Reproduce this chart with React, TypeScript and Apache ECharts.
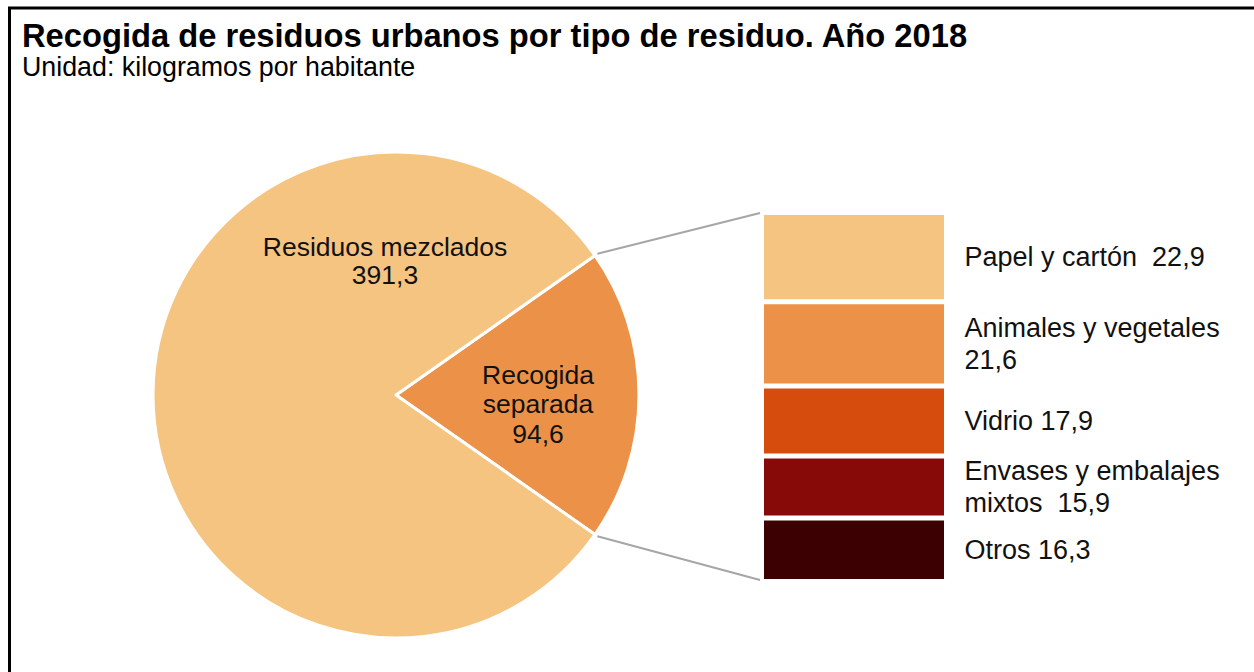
import React, { useEffect, useRef } from "react";
import * as echarts from "echarts";

const TITLE = "Recogida de residuos urbanos por tipo de residuo. Año 2018";
const SUBTITLE = "Unidad: kilogramos por habitante";

const PIE_CATEGORIES = ["Recogida separada", "Residuos mezclados"];
const PIE_VALUES = [94.6, 391.3];
const PIE_LABELS = ["Recogida\nseparada\n{v}", "Residuos mezclados\n{v}"];
const PIE_COLORS = ["#EC9248", "#F5C480"];

const BAR_CATEGORIES = ["Papel y cartón", "Animales y vegetales", "Vidrio", "Envases y embalajes mixtos", "Otros"];
const BAR_VALUES = [22.9, 21.6, 17.9, 15.9, 16.3];
const BAR_LABELS = ["Papel y cartón  {v}", "Animales y vegetales\n{v}", "Vidrio {v}", "Envases y embalajes\nmixtos  {v}", "Otros {v}"];
const BAR_COLORS = ["#F5C480", "#EC9248", "#D54C0D", "#870A09", "#3C0003"];

const fmt = (v: number) => v.toFixed(1).replace(".", ",");
const FONT = "'Liberation Sans', Arial, sans-serif";

export default function App() {
  const ref = useRef<HTMLDivElement>(null);
  useEffect(() => {
    if (!ref.current) return;
    const chart = echarts.init(ref.current, null, { renderer: "svg" });
    const cx = 396, cy = 395, r = 243;
    const pieTotal = PIE_VALUES.reduce((a, b) => a + b, 0);
    const halfDeg = (PIE_VALUES[0] / pieTotal) * 180;
    const halfRad = (halfDeg * Math.PI) / 180;
    const barTotal = BAR_VALUES.reduce((a, b) => a + b, 0);
    const gridLeft = 761.5, gridTop = 212.5, gridW = 185, gridH = 369;
    const pieLabelPos = [
      { x: 538, y: 404, lh: 29.5 },
      { x: 385, y: 261, lh: 27.5 },
    ];
    const ro = r + 3;
    const p1 = [cx + ro * Math.cos(halfRad), cy - ro * Math.sin(halfRad)];
    const p2 = [cx + ro * Math.cos(halfRad), cy + ro * Math.sin(halfRad)];

    const option: any = {
      animation: false,
      backgroundColor: "#ffffff",
      textStyle: { fontFamily: FONT },
      grid: { left: gridLeft, top: gridTop, width: gridW, height: gridH },
      xAxis: { type: "category", data: ["Recogida separada"], show: false },
      yAxis: { type: "value", min: 0, max: barTotal, inverse: true, show: false },
      series: [
        {
          type: "pie",
          center: [cx, cy],
          radius: r,
          startAngle: halfDeg,
          clockwise: true,
          avoidLabelOverlap: false,
          itemStyle: { borderColor: "#ffffff", borderWidth: 3 },
          label: {
            show: true,
            position: "inside",
            fontFamily: FONT,
            fontSize: 26.5,
            color: "#111111",
          },
          labelLine: { show: false },
          emphasis: { disabled: true },
          labelLayout: (p: any) => ({
            x: pieLabelPos[p.dataIndex].x,
            y: pieLabelPos[p.dataIndex].y,
            align: "center",
            verticalAlign: "middle",
          }),
          data: PIE_CATEGORIES.map((name, i) => ({
            name,
            value: PIE_VALUES[i],
            itemStyle: { color: PIE_COLORS[i] },
            label: {
              formatter: PIE_LABELS[i].replace("{v}", fmt(PIE_VALUES[i])),
              lineHeight: pieLabelPos[i].lh,
              align: "center",
            },
          })),
        },
        ...BAR_CATEGORIES.map((name, i) => ({
          type: "bar",
          name,
          stack: "sep",
          barWidth: "100%",
          barCategoryGap: 0,
          itemStyle: { color: BAR_COLORS[i], borderColor: "#ffffff", borderWidth: 2.5 },
          emphasis: { disabled: true },
          label: {
            show: true,
            position: "right",
            distance: 18,
            fontFamily: FONT,
            fontSize: 27,
            lineHeight: 31.5,
            color: "#111111",
            align: "left",
            formatter: BAR_LABELS[i].replace("{v}", fmt(BAR_VALUES[i])),
          },
          data: [BAR_VALUES[i]],
        })),
      ],
      graphic: [
        { type: "line", shape: { x1: 9.5, y1: 7, x2: 9.5, y2: 672 }, style: { stroke: "#000", lineWidth: 3 } },
        { type: "line", shape: { x1: 8, y1: 8, x2: 1254, y2: 8 }, style: { stroke: "#000", lineWidth: 3 } },
        {
          type: "text",
          style: {
            x: 22, y: 35, text: TITLE, fontFamily: FONT, fontSize: 32.7, fontWeight: "bold",
            fill: "#000", verticalAlign: "middle", lineHeight: 28,
          },
        },
        {
          type: "text",
          style: {
            x: 22, y: 66.5, text: SUBTITLE, fontFamily: FONT, fontSize: 26.8,
            fill: "#000", verticalAlign: "middle", lineHeight: 24,
          },
        },
        { type: "line", shape: { x1: p1[0], y1: p1[1], x2: 760, y2: 213 }, style: { stroke: "#a6a6a6", lineWidth: 2 } },
        { type: "line", shape: { x1: p2[0], y1: p2[1], x2: 760, y2: 580 }, style: { stroke: "#a6a6a6", lineWidth: 2 } },
      ],
    };
    chart.setOption(option);
    return () => chart.dispose();
  }, []);
  return <div ref={ref} style={{ position: "fixed", left: 0, top: 0, width: 1254, height: 672 }} />;
}
